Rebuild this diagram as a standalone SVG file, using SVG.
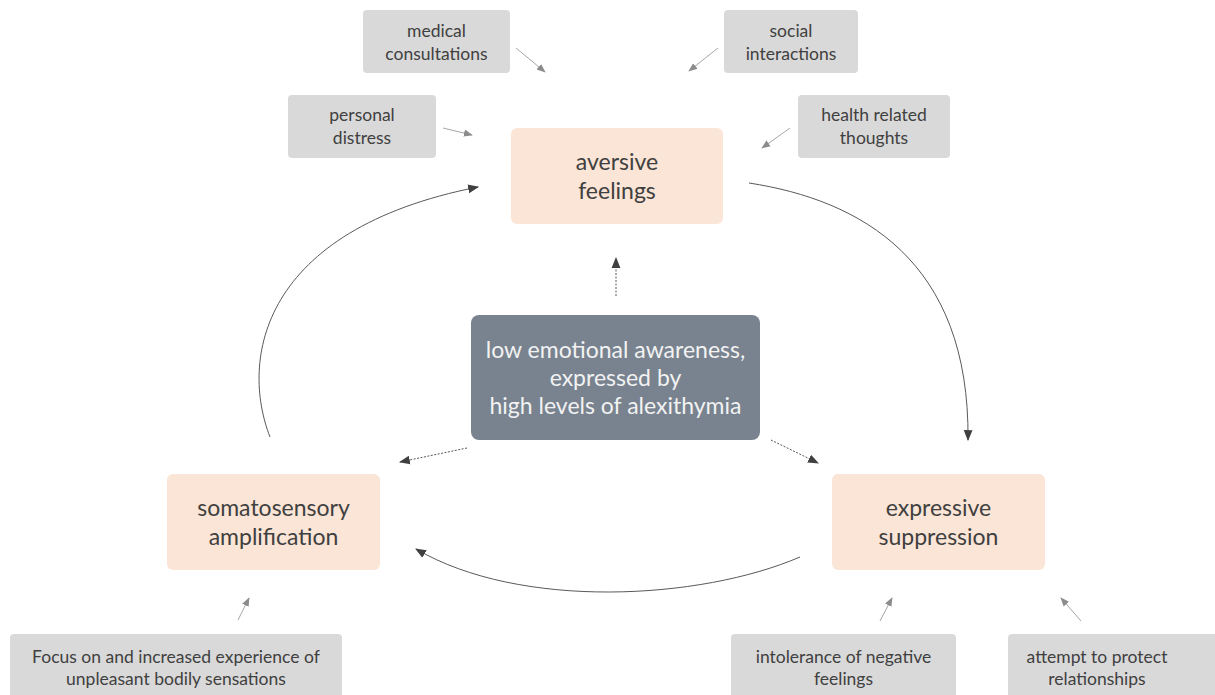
<svg xmlns="http://www.w3.org/2000/svg" width="1215" height="695" viewBox="0 0 1215 695">
<defs>
<style>
.grey{fill:#d9d9d9}
.peach{fill:#fbe5d6}
.slate{fill:#78838f}
.t{font-family:Lato,"Open Sans","Liberation Sans",sans-serif;text-anchor:middle;fill:#404040}
.s{font-size:17.5px}
.m{font-size:23px}
.w{font-size:23px;fill:#f2f2f2}
.thin{stroke:#a6a6a6;stroke-width:1;fill:none}
.dash{stroke:#595959;stroke-width:1;fill:none;stroke-dasharray:2 1.5}
.curve{stroke:#595959;stroke-width:1;fill:none}
</style>
<marker id="ag" viewBox="0 0 10 10" refX="9" refY="5" markerWidth="9" markerHeight="9" markerUnits="userSpaceOnUse" orient="auto"><path d="M0,1 L10,5 L0,9 z" fill="#8c8c8c"/></marker>
<marker id="ad" viewBox="0 0 10 10" refX="9" refY="5" markerWidth="11" markerHeight="11" markerUnits="userSpaceOnUse" orient="auto"><path d="M0,1 L10,5 L0,9 z" fill="#404040"/></marker>
</defs>
<g id="connectors">
<line class="thin" x1="516" y1="48" x2="545" y2="72" marker-end="url(#ag)"/>
<line class="thin" x1="718" y1="48" x2="689" y2="71" marker-end="url(#ag)"/>
<line class="thin" x1="443" y1="128" x2="472" y2="135" marker-end="url(#ag)"/>
<line class="thin" x1="790" y1="128" x2="762" y2="148" marker-end="url(#ag)"/>
<line class="thin" x1="238" y1="620" x2="249" y2="598" marker-end="url(#ag)"/>
<line class="thin" x1="880" y1="621" x2="892" y2="598" marker-end="url(#ag)"/>
<line class="thin" x1="1081" y1="621" x2="1061" y2="598" marker-end="url(#ag)"/>
<line class="dash" x1="616" y1="296" x2="616" y2="258" marker-end="url(#ad)"/>
<line class="dash" x1="467" y1="448" x2="400" y2="462" marker-end="url(#ad)"/>
<line class="dash" x1="771" y1="440" x2="818" y2="463" marker-end="url(#ad)"/>
<path class="curve" d="M749,183 C860,200 970,260 968,440" marker-end="url(#ad)"/>
<path class="curve" d="M800,557 C700,600 520,610 416,549" marker-end="url(#ad)"/>
<path class="curve" d="M270,437 C240,360 260,230 478,187" marker-end="url(#ad)"/>
</g>
<g id="n-medical"><rect class="grey" x="363" y="10" width="147" height="63" rx="4"/><text class="t s" x="436.5" y="37">medical</text><text class="t s" x="436.5" y="60">consultations</text></g>
<g id="n-social"><rect class="grey" x="724" y="10" width="134" height="63" rx="4"/><text class="t s" x="791" y="37">social</text><text class="t s" x="791" y="60">interactions</text></g>
<g id="n-personal"><rect class="grey" x="288" y="95" width="148" height="63" rx="4"/><text class="t s" x="362" y="121">personal</text><text class="t s" x="362" y="144">distress</text></g>
<g id="n-health"><rect class="grey" x="798" y="95" width="152" height="63" rx="4"/><text class="t s" x="874" y="121">health related</text><text class="t s" x="874" y="144">thoughts</text></g>
<g id="n-aversive"><rect class="peach" x="511" y="128" width="212" height="96" rx="6"/><text class="t m" x="617" y="170">aversive</text><text class="t m" x="617" y="199">feelings</text></g>
<g id="n-center"><rect class="slate" x="471" y="315" width="289" height="125" rx="8"/><text class="t w" x="615.5" y="358">low emotional awareness,</text><text class="t w" x="615.5" y="386">expressed by</text><text class="t w" x="615.5" y="414">high levels of alexithymia</text></g>
<g id="n-somato"><rect class="peach" x="167" y="474" width="213" height="96" rx="6"/><text class="t m" x="273.5" y="516">somatosensory</text><text class="t m" x="273.5" y="545">amplification</text></g>
<g id="n-expressive"><rect class="peach" x="832" y="474" width="213" height="96" rx="6"/><text class="t m" x="938.5" y="516">expressive</text><text class="t m" x="938.5" y="545">suppression</text></g>
<g id="n-focus"><rect class="grey" x="10" y="634" width="332" height="70" rx="4"/><text class="t s" x="176" y="663">Focus on and increased experience of</text><text class="t s" x="176" y="685">unpleasant bodily sensations</text></g>
<g id="n-intolerance"><rect class="grey" x="731" y="634" width="225" height="70" rx="4"/><text class="t s" x="843.5" y="663">intolerance of negative</text><text class="t s" x="843.5" y="685">feelings</text></g>
<g id="n-attempt"><rect class="grey" x="1008" y="634" width="215" height="70" rx="4"/><text class="t s" x="1097" y="663">attempt to protect</text><text class="t s" x="1097" y="685">relationships</text></g>
</svg>
